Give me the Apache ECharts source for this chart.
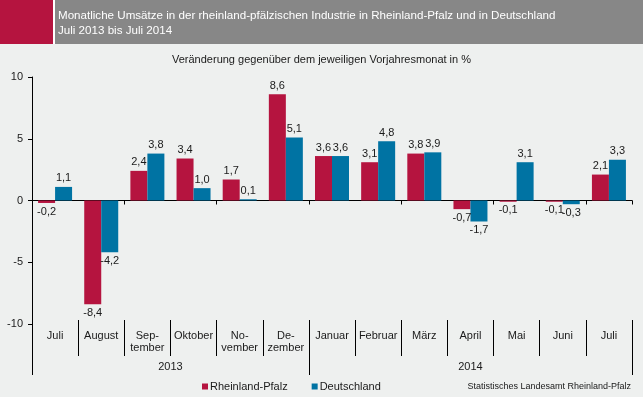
<!DOCTYPE html>
<html>
<head>
    <meta charset="utf-8">
    <title>Umsätze Industrie</title>
    <script src="https://cdn.jsdelivr.net/npm/echarts@6/dist/echarts.min.js"></script>
    <style>
        html, body { margin: 0; padding: 0; background: #eef0ef; }
        #main { width: 643px; height: 397px; }
    </style>
</head>
<body>
<div id="main"></div>

<script type="text/javascript">

    // Daten
    var months = ['Juli', 'August', 'Sep-\ntember', 'Oktober', 'No-\nvember', 'De-\nzember',
        'Januar', 'Februar', 'März', 'April', 'Mai', 'Juni', 'Juli'];
    var years = ['2013', '2014'];
    var monthsPerYear = [6, 7];
    var rlp = [-0.2, -8.4, 2.4, 3.4, 1.7, 8.6, 3.6, 3.1, 3.8, -0.7, -0.1, -0.1, 2.1];
    var de = [1.1, -4.2, 3.8, 1.0, 0.1, 5.1, 3.6, 4.8, 3.9, -1.7, 3.1, -0.3, 3.3];
    var yTicks = [-10, -5, 0, 5, 10];

    var red = '#b5143f';
    var blue = '#0073a3';
    var font = 'Liberation Sans, Arial, sans-serif';

    function fmt(v) {
        return v.toFixed(1).replace('.', ',');
    }

    // Balken mit Beschriftung oben / unten je nach Vorzeichen
    function bars(arr) {
        var out = [];
        for (var i = 0; i < arr.length; i++) {
            out.push({
                value: arr[i],
                label: { position: arr[i] < 0 ? 'bottom' : 'top' }
            });
        }
        return out;
    }

    // Jahresanfaenge (Index) und -mitten auf der Monatsskala
    var yearStarts = [];
    var yearCenters = [];
    var pos = 0;
    for (var i = 0; i < monthsPerYear.length; i++) {
        yearStarts.push(pos);
        yearCenters.push(pos + monthsPerYear[i] / 2);
        pos += monthsPerYear[i];
    }

    var myChart = echarts.init(document.getElementById('main'));

    var labelStyle = {
        show: true,
        distance: 3,
        fontSize: 11,
        fontFamily: font,
        color: '#1a1a1a',
        formatter: function (p) { return fmt(p.value); }
    };

    myChart.setOption({
        backgroundColor: '#eef0ef',
        animation: false,
        textStyle: { fontFamily: font },
        graphic: [
            { type: 'rect', shape: { x: 0, y: 0, width: 643, height: 44 }, style: { fill: '#ffffff' } },
            { type: 'rect', shape: { x: 0, y: 0, width: 53, height: 44 }, style: { fill: red } },
            { type: 'rect', shape: { x: 55, y: 0, width: 588, height: 44 }, style: { fill: '#878787' } },
            {
                type: 'text', left: 58, top: 8,
                style: {
                    text: 'Monatliche Umsätze in der rheinland-pfälzischen Industrie in Rheinland-Pfalz und in Deutschland\nJuli 2013 bis Juli 2014',
                    fill: '#ffffff', font: '11.6px ' + font, lineHeight: 15
                }
            },
            {
                type: 'text', left: 'center', top: 54,
                style: {
                    text: 'Veränderung gegenüber dem jeweiligen Vorjahresmonat in %',
                    fill: '#1a1a1a', font: '11px ' + font
                }
            },
            {
                type: 'text', right: 12, top: 382,
                style: {
                    text: 'Statistisches Landesamt Rheinland-Pfalz',
                    fill: '#1a1a1a', font: '9px ' + font
                }
            }
        ],
        legend: {
            left: 197,
            top: 376,
            icon: 'rect',
            itemWidth: 6,
            itemHeight: 6,
            itemGap: 24,
            textStyle: { fontSize: 11, color: '#1a1a1a', padding: [0, 0, 0, -3] },
            data: ['Rheinland-Pfalz', 'Deutschland']
        },
        grid: { left: 32, right: 11, top: 77, bottom: 73 },
        xAxis: [
            {
                type: 'category',
                data: months,
                axisLine: { onZero: true, lineStyle: { color: '#000', width: 1 } },
                axisTick: { show: true, length: 4, lineStyle: { color: '#000' } },
                axisLabel: { show: false }
            },
            {
                // Monatsnamen mit Trennstrichen
                type: 'category',
                data: months,
                position: 'bottom',
                offset: -4,
                axisLine: { show: false, onZero: false },
                axisTick: { show: true, length: 36, interval: 0, lineStyle: { color: '#000' } },
                axisLabel: {
                    interval: 0, margin: 10, fontSize: 11, lineHeight: 12,
                    color: '#1a1a1a', fontFamily: font
                }
            },
            {
                // Jahresbeschriftung
                type: 'value',
                min: 0,
                max: months.length,
                position: 'bottom',
                offset: -4,
                splitLine: { show: false },
                axisLine: { show: false, onZero: false },
                axisTick: { show: false },
                axisLabel: {
                    customValues: yearCenters,
                    margin: 41, fontSize: 11, color: '#1a1a1a', fontFamily: font,
                    formatter: function (v) {
                        for (var i = 0; i < yearCenters.length; i++) {
                            if (Math.abs(yearCenters[i] - v) < 0.01) return years[i];
                        }
                        return '';
                    }
                }
            },
            {
                // Jahrestrennstriche
                type: 'category',
                data: months,
                position: 'bottom',
                offset: -4,
                axisLine: { show: false, onZero: false },
                axisLabel: { show: false },
                axisTick: {
                    show: true, length: 55, lineStyle: { color: '#000' },
                    interval: function (idx) { return yearStarts.indexOf(idx) >= 0; }
                }
            }
        ],
        yAxis: {
            type: 'value',
            min: yTicks[0],
            max: yTicks[yTicks.length - 1],
            interval: 5,
            splitLine: { show: false },
            axisLine: { show: true, lineStyle: { color: '#000' } },
            axisTick: { show: true, length: 4, lineStyle: { color: '#000' } },
            axisLabel: { margin: 9, fontSize: 11, color: '#1a1a1a', fontFamily: font }
        },
        series: [
            {
                name: 'Rheinland-Pfalz',
                type: 'bar',
                xAxisIndex: 0,
                barWidth: 17,
                barGap: '0%',
                itemStyle: { color: red },
                label: labelStyle,
                data: bars(rlp)
            },
            {
                name: 'Deutschland',
                type: 'bar',
                xAxisIndex: 0,
                barWidth: 17,
                barGap: '0%',
                itemStyle: { color: blue },
                label: labelStyle,
                data: bars(de)
            }
        ]
    });

</script>
</body>
</html>
